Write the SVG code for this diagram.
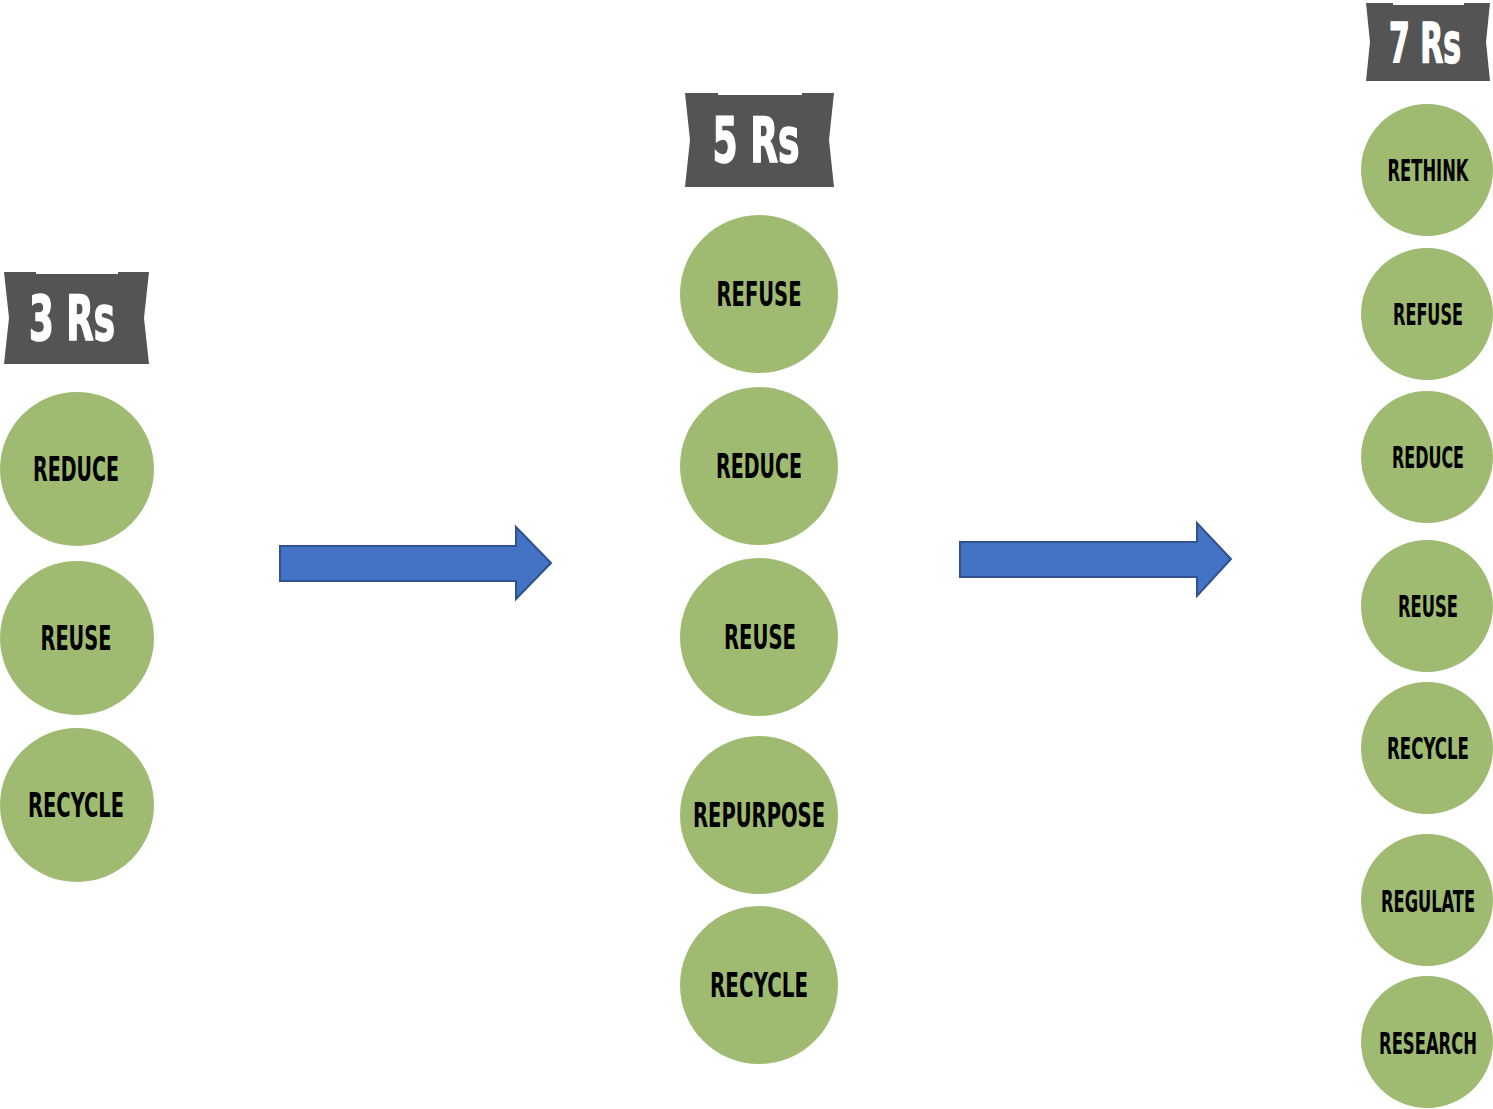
<svg xmlns="http://www.w3.org/2000/svg" width="1493" height="1109" viewBox="0 0 1493 1109">
<style>
.bg{fill:#ffffff}
.banner{fill:#545454}
.btxt{fill:#ffffff;stroke:#ffffff;stroke-width:1.5;font-family:"Liberation Sans Narrow","DejaVu Sans Condensed","Liberation Sans",sans-serif;font-weight:bold;text-anchor:middle}
.node{fill:#9fbb72}
.ntxt{fill:#000000;font-family:"Liberation Sans Narrow","DejaVu Sans Condensed","Liberation Sans",sans-serif;font-weight:bold;text-anchor:middle}
.big{font-size:33px}
.small{font-size:30px}
.arrow{fill:#4472c4;stroke:#2f528f;stroke-width:2;stroke-linejoin:miter}
</style>
<rect class="bg" x="0" y="0" width="1493" height="1109"/>
<g id="banner-3rs">
<path class="banner" d="M4,272 L36,272 L36,274 L118,274 L118,272 L149,272 L144,318 L149,364 L4,364 L9,318 Z"/>
<text class="btxt" x="72" y="340" font-size="62" textLength="86" lengthAdjust="spacingAndGlyphs">3 Rs</text>
</g>
<g id="banner-5rs">
<path class="banner" d="M685,93 L718,93 L718,95 L802,95 L802,93 L834,93 L829,140 L834,187 L685,187 L690,140 Z"/>
<text class="btxt" x="756" y="162" font-size="62" textLength="87" lengthAdjust="spacingAndGlyphs">5 Rs</text>
</g>
<g id="banner-7rs">
<path class="banner" d="M1366,3 L1393,3 L1393,5 L1464,5 L1464,3 L1490,3 L1486,42 L1490,81 L1366,81 L1370,42 Z"/>
<text class="btxt" x="1425" y="62" font-size="56" textLength="72" lengthAdjust="spacingAndGlyphs">7 Rs</text>
</g>
<g id="c3-reduce"><circle class="node" cx="77" cy="469" r="77"/><text class="ntxt big" x="76" y="481" textLength="86" lengthAdjust="spacingAndGlyphs">REDUCE</text></g>
<g id="c3-reuse"><circle class="node" cx="77" cy="638" r="77"/><text class="ntxt big" x="76" y="650" textLength="71" lengthAdjust="spacingAndGlyphs">REUSE</text></g>
<g id="c3-recycle"><circle class="node" cx="77" cy="805" r="77"/><text class="ntxt big" x="76" y="817" textLength="96" lengthAdjust="spacingAndGlyphs">RECYCLE</text></g>
<g id="c5-refuse"><circle class="node" cx="759" cy="294" r="79"/><text class="ntxt big" x="759" y="306" textLength="85" lengthAdjust="spacingAndGlyphs">REFUSE</text></g>
<g id="c5-reduce"><circle class="node" cx="759" cy="466" r="79"/><text class="ntxt big" x="759" y="478" textLength="86" lengthAdjust="spacingAndGlyphs">REDUCE</text></g>
<g id="c5-reuse"><circle class="node" cx="759" cy="637" r="79"/><text class="ntxt big" x="760" y="649" textLength="72" lengthAdjust="spacingAndGlyphs">REUSE</text></g>
<g id="c5-repurpose"><circle class="node" cx="759" cy="815" r="79"/><text class="ntxt big" x="759" y="827" textLength="132" lengthAdjust="spacingAndGlyphs">REPURPOSE</text></g>
<g id="c5-recycle"><circle class="node" cx="759" cy="985" r="79"/><text class="ntxt big" x="759" y="997" textLength="98" lengthAdjust="spacingAndGlyphs">RECYCLE</text></g>
<g id="c7-rethink"><circle class="node" cx="1427" cy="170" r="66"/><text class="ntxt small" x="1428" y="181" textLength="81" lengthAdjust="spacingAndGlyphs">RETHINK</text></g>
<g id="c7-refuse"><circle class="node" cx="1427" cy="314" r="66"/><text class="ntxt small" x="1428" y="325" textLength="70" lengthAdjust="spacingAndGlyphs">REFUSE</text></g>
<g id="c7-reduce"><circle class="node" cx="1427" cy="457" r="66"/><text class="ntxt small" x="1428" y="468" textLength="72" lengthAdjust="spacingAndGlyphs">REDUCE</text></g>
<g id="c7-reuse"><circle class="node" cx="1427" cy="606" r="66"/><text class="ntxt small" x="1428" y="617" textLength="60" lengthAdjust="spacingAndGlyphs">REUSE</text></g>
<g id="c7-recycle"><circle class="node" cx="1427" cy="748" r="66"/><text class="ntxt small" x="1428" y="759" textLength="82" lengthAdjust="spacingAndGlyphs">RECYCLE</text></g>
<g id="c7-regulate"><circle class="node" cx="1427" cy="900" r="66"/><text class="ntxt small" x="1428" y="912" textLength="94" lengthAdjust="spacingAndGlyphs">REGULATE</text></g>
<g id="c7-research"><circle class="node" cx="1427" cy="1042" r="66"/><text class="ntxt small" x="1428" y="1054" textLength="98" lengthAdjust="spacingAndGlyphs">RESEARCH</text></g>
<g id="connectors">
<path class="arrow" d="M280,546 L516,546 L516,527 L551,563 L516,599 L516,581 L280,581 Z"/>
<path class="arrow" d="M960,542 L1197,542 L1197,523 L1231,559 L1197,596 L1197,577 L960,577 Z"/>
</g>
</svg>
